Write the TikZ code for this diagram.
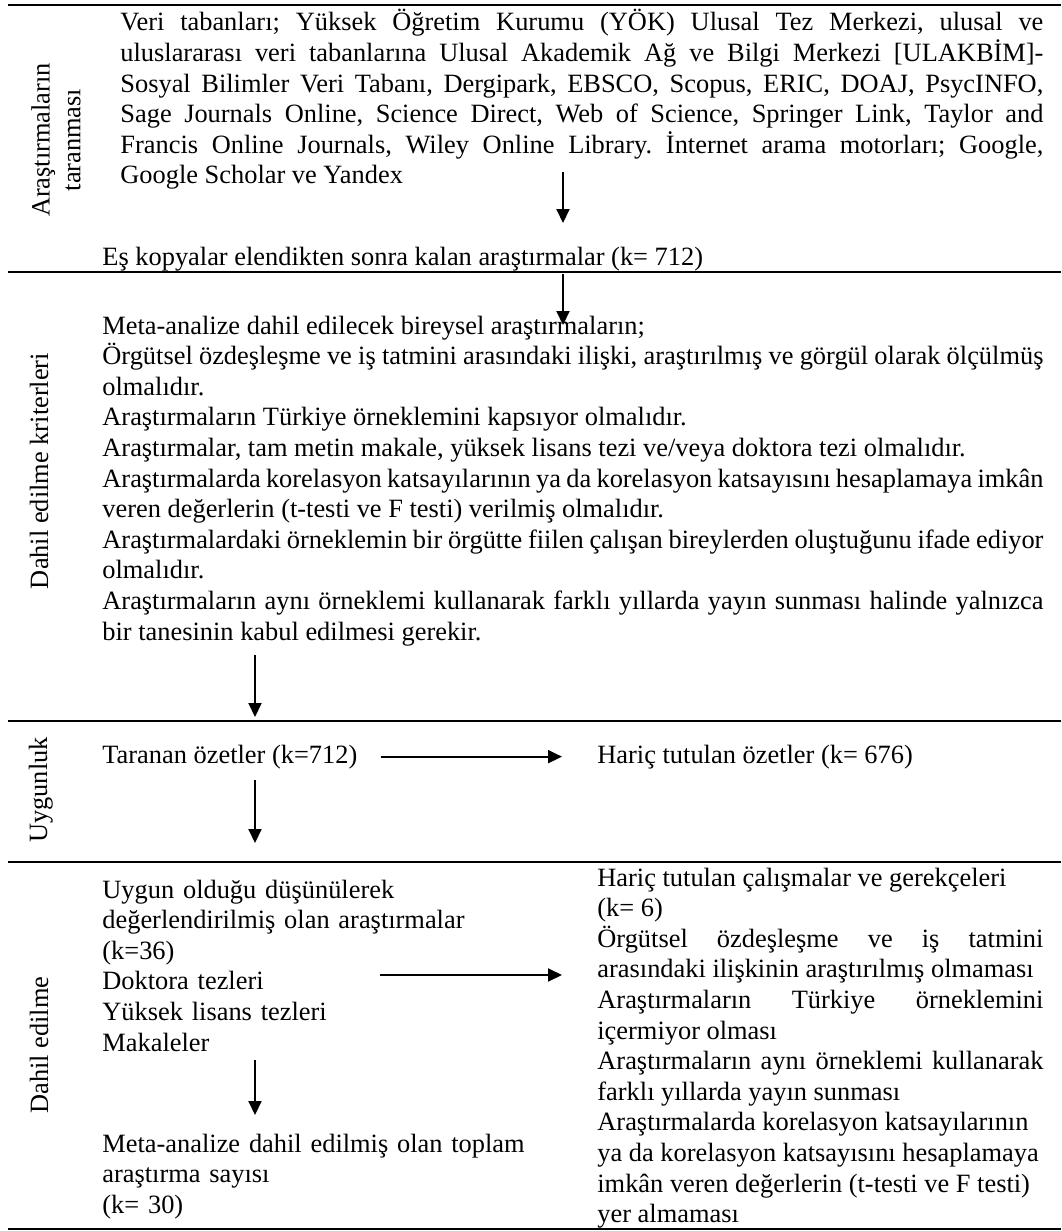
\documentclass[tikz,border=0pt]{standalone}
\usepackage{fontspec}
\setmainfont{Liberation Serif}
\usetikzlibrary{arrows.meta}
\hyphenpenalty=10000
\exhyphenpenalty=10000
\frenchspacing

\begin{document}
\begin{tikzpicture}[x=0.5pt,y=-0.5pt,
  font=\fontsize{13.2}{15.3}\selectfont,
  rule/.style={line width=1.3pt},
  arr/.style={line width=1pt,-{Triangle[length=7pt,width=6.5pt]}},
  txt/.style={inner sep=0pt,anchor=base west},
  para/.style={txt,align=justify},
  lines/.style={txt,align=left},
  side/.style={inner sep=0pt,rotate=90}]
\useasboundingbox (0,0) rectangle (1061,1231);
% section rules
\draw[rule] (8,5) -- (1061,5);
\draw[rule] (8,272) -- (1061,272);
\draw[rule] (8,721) -- (1061,721);
\draw[rule] (8,862) -- (1061,862);
\draw[rule] (8,1229) -- (1061,1229);
% side labels
\node[side,align=center] (lscan) at (56,140) {Araştırmaların\\taranması};
\node[side,anchor=base] (lcrit) at (48,471) {Dahil edilme kriterleri};
\node[side,anchor=base] (lelig) at (47,790) {Uygunluk};
\node[side,anchor=base] (lincl) at (48,1045) {Dahil edilme};
% texts
\node[para,text width=461.5pt] (db) at (120,31)
  {Veri tabanları; Yüksek Öğretim Kurumu (YÖK) Ulusal Tez Merkezi, ulusal ve\linebreak
   uluslararası veri tabanlarına Ulusal Akademik Ağ ve Bilgi Merkezi [ULAKBİM]-\linebreak
   Sosyal Bilimler Veri Tabanı, Dergipark, EBSCO, Scopus, ERIC, DOAJ, PsycINFO,\linebreak
   Sage Journals Online, Science Direct, Web of Science, Springer Link, Taylor and\linebreak
   Francis Online Journals, Wiley Online Library. İnternet arama motorları; Google,\linebreak
   Google Scholar ve Yandex};
\node[txt] (dup) at (102,265) {Eş kopyalar elendikten sonra kalan araştırmalar (k= 712)};
\node[para,text width=470.5pt] (crit) at (102,334)
  {Meta-analize dahil edilecek bireysel araştırmaların;\par
   Örgütsel özdeşleşme ve iş tatmini arasındaki ilişki, araştırılmış ve görgül olarak ölçülmüş\linebreak
   olmalıdır.\par
   Araştırmaların Türkiye örneklemini kapsıyor olmalıdır.\par
   Araştırmalar, tam metin makale, yüksek lisans tezi ve/veya doktora tezi olmalıdır.\par
   Araştırmalarda korelasyon katsayılarının ya da korelasyon katsayısını hesaplamaya imkân\linebreak
   veren değerlerin (t-testi ve F testi) verilmiş olmalıdır.\par
   Araştırmalardaki örneklemin bir örgütte fiilen çalışan bireylerden oluştuğunu ifade ediyor\linebreak
   olmalıdır.\par
   Araştırmaların aynı örneklemi kullanarak farklı yıllarda yayın sunması halinde yalnızca\linebreak
   bir tanesinin kabul edilmesi gerekir.};
\node[txt] (scr) at (102,763) {Taranan özetler (k=712)};
\node[txt] (exab) at (597,763) {Hariç tutulan özetler (k= 676)};
\node[lines,text width=220pt] (elig) at (102,898)
  {Uygun olduğu düşünülerek\\ değerlendirilmiş olan araştırmalar\\ (k=36)\\
   Doktora tezleri\\ Yüksek lisans tezleri\\ Makaleler};
\node[lines,text width=220pt] (total) at (102,1152)
  {Meta-analize dahil edilmiş olan toplam\\ araştırma sayısı\\ (k= 30)};
\node[para,text width=223pt] (why) at (597,886)
  {Hariç tutulan çalışmalar ve gerekçeleri\hfill\null\linebreak (k= 6)\par
   Örgütsel özdeşleşme ve iş tatmini\linebreak arasındaki ilişkinin araştırılmış olmaması\par
   Araştırmaların Türkiye örneklemini\linebreak içermiyor olması\par
   Araştırmaların aynı örneklemi kullanarak\linebreak farklı yıllarda yayın sunması\par
   Araştırmalarda korelasyon katsayılarının\hfill\null\linebreak
   ya da korelasyon katsayısını hesaplamaya\hfill\null\linebreak
   imkân veren değerlerin (t-testi ve F testi)\hfill\null\linebreak
   yer almaması};
% connectors
\coordinate (s1) at (563,172); \coordinate (e1) at (563,223);
\coordinate (s2) at (563,274); \coordinate (e2) at (563,325);
\coordinate (s3) at (255,655); \coordinate (e3) at (255,717);
\coordinate (s4) at (255,780); \coordinate (e4) at (255,843);
\coordinate (s5) at (255,1060); \coordinate (e5) at (255,1115);
\coordinate (s6) at (380,975);
\foreach \i in {1,...,5}
  \draw[arr] (s\i) -- (e\i);
\draw[arr,shorten <=11.5pt,shorten >=17.5pt] (scr.east) -- (scr.east -| exab.west);
\draw[arr,shorten >=17.5pt] (s6) -- (s6 -| why.west);
\end{tikzpicture}
\end{document}
